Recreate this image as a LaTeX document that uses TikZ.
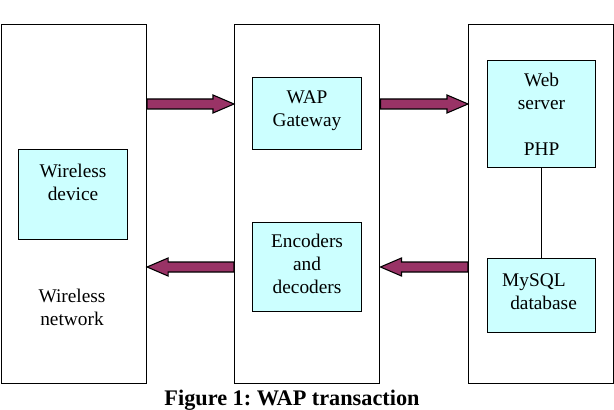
\documentclass[tikz,border=0pt]{standalone}
\usepackage{fontspec}
\setmainfont{Liberation Serif}
\usetikzlibrary{calc}
\definecolor{boxfill}{HTML}{CCFFFF}
\definecolor{arrowfill}{HTML}{993366}
\frenchspacing
\begin{document}
\begin{tikzpicture}[x=0.75pt,y=-0.75pt,
  panel/.style={draw=black,line width=1.1pt,minimum width=145*0.75pt,minimum height=359*0.75pt,inner sep=0pt,anchor=north west},
  inbox/.style={draw=black,line width=0.8pt,fill=boxfill,inner sep=0pt,anchor=north west},
  lbl/.style={font=\fontsize{14.5pt}{17.25pt}\selectfont,align=center,inner sep=0pt},
  fat/.style={draw=black,line width=0.8pt,fill=arrowfill}]
\useasboundingbox (0,0) rectangle (614,410);
\node[panel] (L) at (0.6,24) {};
\node[panel] (M) at (234,24) {};
\node[panel] (R) at (468,24) {};
\node[inbox,minimum width=109*0.75pt,minimum height=90*0.75pt] (wd) at (18,149) {};
\node[lbl,anchor=north] (wdt) at ($(wd.north)+(0,15)$) {Wireless\\device};
\node[lbl] (wn) at (72,307) {Wireless\\network};
\node[inbox,minimum width=109*0.75pt,minimum height=72*0.75pt] (gw) at (252,77) {};
\node[lbl,anchor=north] (gwt) at ($(gw.north)+(0,13)$) {WAP\\Gateway};
\node[inbox,minimum width=109*0.75pt,minimum height=89*0.75pt] (enc) at (252,222) {};
\node[lbl,anchor=north] (enct) at ($(enc.north)+(0,12)$) {Encoders\\and\\decoders};
\node[inbox,minimum width=108*0.75pt,minimum height=107*0.75pt] (ws) at (487,60) {};
\node[lbl,anchor=north] (wst) at ($(ws.north)+(0,13)$) {Web\\server\\[17.25pt]PHP};
\node[inbox,minimum width=108*0.75pt,minimum height=74*0.75pt] (db) at (487,258) {};
\node[lbl,align=left] (dbt) at ($(db.center)+(-2,-4)$) {MySQL\\\ \,database};
\draw[line width=0.8pt] (ws.south) -- (db.north);
% arrows
\path (L.east |- 0,104) coordinate (a1s) (M.west |- 0,104) coordinate (a1e);
\path (M.east |- 0,104) coordinate (a2s) (R.west |- 0,104) coordinate (a2e);
\path (M.west |- 0,267) coordinate (a3s) (L.east |- 0,267) coordinate (a3e);
\path (R.west |- 0,267) coordinate (a4s) (M.east |- 0,267) coordinate (a4e);
\foreach \s/\e/\d in {a1s/a1e/1,a2s/a2e/1,a3s/a3e/-1,a4s/a4e/-1}{
  \filldraw[fat] ($(\s)+(0,-5)$) -- ($(\e)+(-21*\d,-5)$) -- ($(\e)+(-21*\d,-9)$) -- (\e)
    -- ($(\e)+(-21*\d,9)$) -- ($(\e)+(-21*\d,5)$) -- ($(\s)+(0,5)$) -- cycle;
}
\node[font=\fontsize{16.7pt}{20pt}\selectfont\bfseries,inner sep=0pt,anchor=base] (cap) at (292,405) {Figure 1: WAP transaction};
\end{tikzpicture}
\end{document}
